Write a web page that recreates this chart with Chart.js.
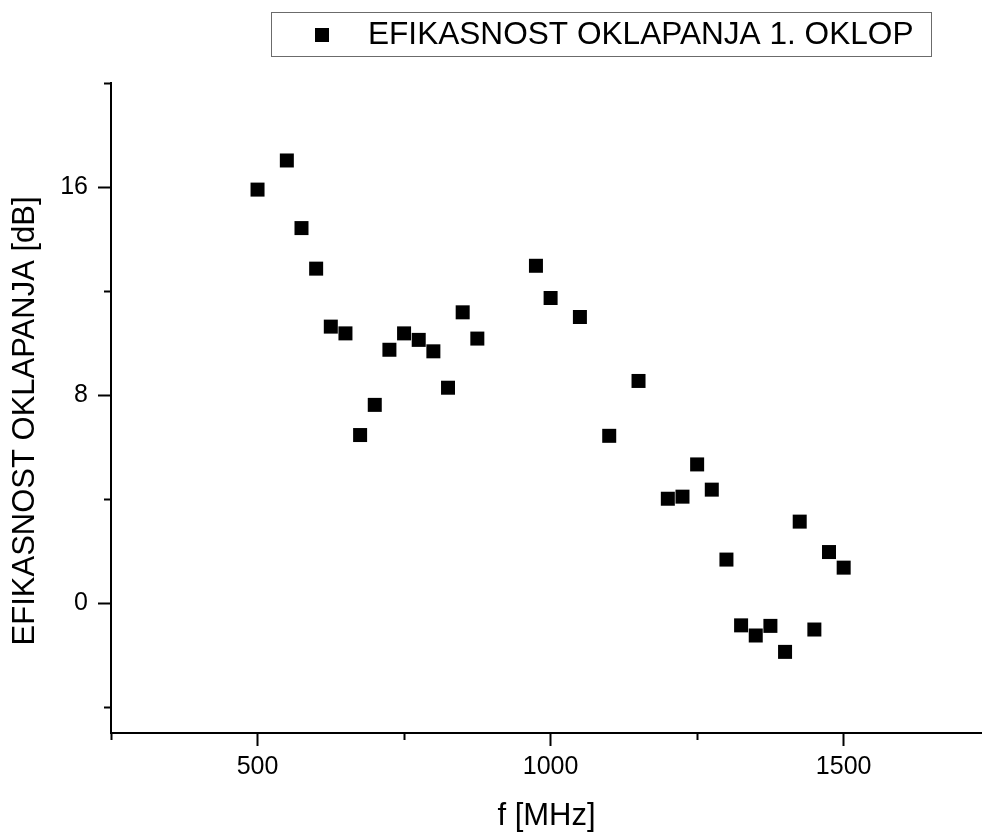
<!DOCTYPE html>
<html><head><meta charset="utf-8">
<script src="https://cdn.jsdelivr.net/npm/chart.js@4/dist/chart.umd.min.js"></script>
<style>html,body{margin:0;padding:0;background:#fff;overflow:hidden}#wrap{width:982px;height:832px;position:relative}</style>
</head><body><div id="wrap"><canvas id="c"></canvas></div>
<script>
const seriesName = 'EFIKASNOST OKLAPANJA 1. OKLOP';
const frequencies = [500,550,575,600,625,650,675,700,725,750,775,800,825,850,875,975,1000,1050,1100,1150,1200,1225,1250,1275,1300,1325,1350,1375,1400,1425,1450,1475,1500];
const shielding = [15.90,17.02,14.42,12.86,10.63,10.37,6.46,7.62,9.74,10.37,10.12,9.68,8.28,11.18,10.17,12.97,11.73,11.0,6.43,8.54,4.01,4.09,5.33,4.36,1.67,-0.86,-1.25,-0.88,-1.88,3.13,-1.02,1.96,1.36];
const xMajorTicks = [500,1000,1500];
const xMinorTicks = [250,750,1250];
const yMajorTicks = [0,8,16];
const yMinorTicks = [-4,4,12,20];
const xTitle = 'f [MHz]';
const yTitle = 'EFIKASNOST OKLAPANJA [dB]';

const FONT = '"Liberation Sans", Arial, sans-serif';
Chart.defaults.font.family = FONT;
Chart.defaults.color = '#000';

const points = frequencies.map((f, i) => ({x: f, y: shielding[i]}));

const legendBoxPlugin = {
  id: 'legendBox',
  afterDraw(chart) {
    const ctx = chart.ctx;
    const ds = chart.data.datasets[0];
    ctx.save();
    ctx.strokeStyle = '#6b6b6b';
    ctx.lineWidth = 1;
    ctx.strokeRect(271.5, 12.5, 660, 44);
    ctx.fillStyle = ds.backgroundColor;
    ctx.fillRect(315, 28, 14, 14);
    ctx.fillStyle = '#000';
    ctx.font = '31.6px ' + FONT;
    ctx.textBaseline = 'alphabetic';
    ctx.textAlign = 'left';
    ctx.fillText(ds.label, 368, 44);
    ctx.restore();
  }
};

const axisLine = {display: true, color: '#000', width: 2};

new Chart(document.getElementById('c'), {
  type: 'scatter',
  data: {
    datasets: [{
      label: seriesName,
      data: points,
      pointStyle: 'rect',
      pointRadius: 9.9,
      pointHoverRadius: 9.9,
      backgroundColor: '#000',
      borderColor: '#000',
      borderWidth: 0,
      showLine: false,
      xAxisID: 'x',
      yAxisID: 'y'
    }]
  },
  options: {
    responsive: true,
    maintainAspectRatio: false,
    animation: false,
    layout: {autoPadding: false, padding: {top: 83, left: 0, right: 0, bottom: 0}},
    plugins: {legend: {display: false}, tooltip: {enabled: false}},
    scales: {
      x: {
        type: 'linear', position: 'bottom', min: 250, max: 1736, weight: 1,
        afterBuildTicks: s => { s.ticks = xMajorTicks.map(v => ({value: v})); },
        afterFit: s => { s.height = 99; },
        grid: {drawOnChartArea: false, drawTicks: true, tickLength: 13, tickWidth: 2, tickColor: '#000'},
        border: axisLine,
        ticks: {color: '#000', font: {size: 25}, padding: 6, maxRotation: 0, autoSkip: false, callback: v => String(v)},
        title: {display: true, text: xTitle, color: '#000', font: {size: 31, lineHeight: 1}, padding: {top: 0, bottom: 0}}
      },
      x2: {
        type: 'linear', position: 'bottom', min: 250, max: 1736, weight: 0,
        afterBuildTicks: s => { s.ticks = xMinorTicks.map(v => ({value: v})); },
        afterFit: s => { s.height = 0; },
        grid: {drawOnChartArea: false, drawTicks: true, tickLength: 7, tickWidth: 2, tickColor: '#000'},
        border: axisLine,
        ticks: {display: false}
      },
      y: {
        type: 'linear', position: 'left', min: -5, max: 20, weight: 1,
        afterBuildTicks: s => { s.ticks = yMajorTicks.map(v => ({value: v})); },
        afterFit: s => { s.width = 111; },
        grid: {drawOnChartArea: false, drawTicks: true, tickLength: 13, tickWidth: 2, tickColor: '#000'},
        border: axisLine,
        ticks: {color: '#000', font: {size: 25}, padding: 10, autoSkip: false, callback: v => String(v)},
        title: {display: true, text: yTitle + '   ', color: '#000', font: {size: 31, lineHeight: 1}, padding: {top: 10, bottom: 0}}
      },
      y2: {
        type: 'linear', position: 'left', min: -5, max: 20, weight: 0,
        afterBuildTicks: s => { s.ticks = yMinorTicks.map(v => ({value: v})); },
        afterFit: s => { s.width = 0; },
        grid: {drawOnChartArea: false, drawTicks: true, tickLength: 7, tickWidth: 2, tickColor: '#000'},
        border: axisLine,
        ticks: {display: false}
      }
    }
  },
  plugins: [legendBoxPlugin]
});
</script>
</body></html>
